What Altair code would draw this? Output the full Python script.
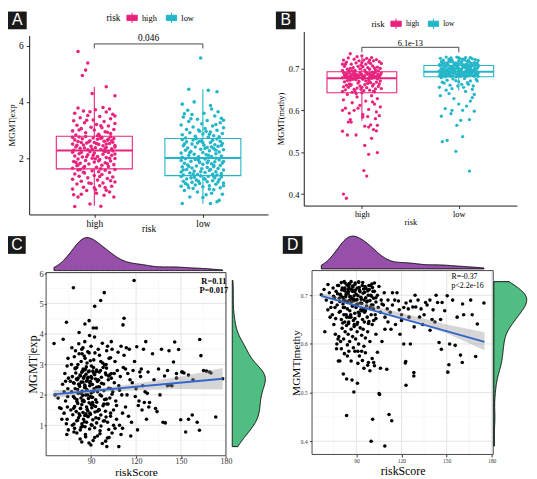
import altair as alt
import pandas as pd

# ---------------------------------------------------------------- data
RISK = ["high", "low"]

# panel A: (jitter offset, MGMT|exp) per risk group
A_HIGH = [
    (-0.18,0.28),(0.06,0.29),(-0.04,0.37),(-0.15,0.62),(-0.19,0.70),(-0.12,0.72),(0.02,0.75),(0.09,0.68),(0.14,0.80),(0.18,0.62),
    (0.11,0.86),(-0.07,0.85),(-0.20,0.90),(-0.10,0.97),(0.00,0.95),(0.05,1.02),(0.16,1.00),(-0.16,1.08),(-0.03,1.10),(0.08,1.12),
    (0.19,1.15),(-0.12,1.18),(0.03,1.22),(-0.20,1.25),(0.12,1.28),(-0.06,1.30),(0.17,1.33),(-0.14,1.36),(0.00,1.38),(0.07,1.42),
    (-0.18,1.44),(-0.09,1.47),(0.14,1.49),(0.04,1.52),(-0.02,1.55),(0.10,1.57),(-0.15,1.58),(0.19,1.60),(-0.05,1.12),(0.05,1.35),
    (0.15,1.20),(-0.10,1.50),(0.01,0.88),(-0.13,1.60),(0.10,0.96),
    (-0.20,1.64),(-0.10,1.66),(0.02,1.68),(0.13,1.70),(-0.16,1.73),(0.07,1.75),(0.18,1.77),(-0.05,1.79),(-0.13,1.82),(0.10,1.84),
    (0.00,1.86),(-0.19,1.88),(0.15,1.90),(-0.08,1.92),(0.05,1.95),(-0.15,1.97),(0.19,1.99),(-0.02,2.00),(0.11,2.02),(-0.11,2.04),
    (0.03,2.06),(-0.18,2.08),(0.16,2.10),(-0.06,2.12),(0.08,2.14),(-0.14,2.16),(0.00,2.18),(0.13,2.20),(-0.20,2.21),(-0.04,2.23),
    (0.09,2.25),(0.17,2.26),(-0.09,1.70),(0.12,1.80),(-0.17,1.85),(0.04,1.90),(-0.01,2.10),(0.19,2.15),(-0.12,2.20),(0.06,1.62),
    (-0.07,2.05),(0.14,2.00),(-0.15,1.76),(0.01,1.98),(0.10,2.24),
    (-0.19,2.28),(-0.06,2.30),(0.06,2.31),(0.16,2.33),(-0.13,2.35),(0.01,2.37),(0.11,2.38),(-0.17,2.40),(-0.03,2.42),(0.08,2.44),
    (0.19,2.45),(-0.10,2.47),(0.04,2.49),(-0.20,2.50),(0.14,2.52),(-0.07,2.54),(0.00,2.56),(0.17,2.57),(-0.15,2.59),(0.09,2.60),
    (-0.04,2.62),(0.12,2.64),(-0.18,2.65),(0.03,2.67),(-0.11,2.69),(0.18,2.70),(-0.01,2.72),(0.07,2.73),(-0.14,2.75),(0.15,2.76),
    (-0.08,2.77),(0.05,2.78),(-0.20,2.74),(0.10,2.34),(-0.05,2.58),(0.13,2.68),(-0.16,2.46),(0.02,2.52),(0.16,2.62),(-0.09,2.36),
    (0.06,2.70),(-0.12,2.56),(0.19,2.40),(-0.02,2.32),(0.11,2.50),
    (-0.17,2.82),(0.04,2.85),(0.15,2.88),(-0.08,2.90),(0.10,2.94),(-0.20,2.97),(0.00,3.00),(0.18,3.02),(-0.12,3.05),(0.07,3.08),
    (-0.03,3.10),(0.13,3.14),(-0.16,3.17),(0.02,3.20),(0.19,3.23),(-0.09,3.26),(0.09,3.30),(-0.19,3.33),(-0.01,3.36),(0.15,3.40),
    (-0.13,3.44),(0.05,3.48),(-0.06,3.52),(0.17,3.56),(-0.18,3.60),(0.11,3.64),(-0.10,3.68),(0.01,3.72),(0.14,3.75),(-0.15,3.78),
    (0.08,3.80),(-0.04,3.65),(0.12,2.92),(-0.14,3.00),(0.06,3.15),(-0.07,3.35),(0.03,2.80),(0.19,3.50),(-0.02,4.30),(0.11,4.54),
    (0.19,4.22),(-0.15,5.79),(-0.06,5.38),(-0.08,5.13),(-0.11,4.94),
]
A_LOW = [
    (-0.19,0.39),(0.07,0.39),(0.13,0.45),(0.15,0.50),(-0.12,0.62),(0.03,0.70),(0.18,0.72),(-0.05,0.80),(-0.17,0.85),(0.10,0.88),
    (-0.09,0.92),(0.16,0.95),(0.00,0.98),(-0.20,1.00),(0.06,1.02),(-0.14,1.05),(0.12,1.07),(-0.03,1.10),(0.19,1.12),(-0.10,1.14),
    (0.04,1.16),(-0.18,1.18),(0.09,1.20),(-0.06,1.22),(0.15,1.24),(-0.15,1.26),(0.01,1.28),(0.11,1.30),(-0.08,1.32),(0.17,1.33),
    (-0.20,1.35),(0.05,1.36),(-0.02,1.37),(0.14,1.15),(-0.13,0.95),(0.08,0.75),(-0.07,1.05),(0.02,1.25),(-0.16,1.10),(0.19,1.02),
    (-0.11,1.30),(0.10,1.35),(0.00,0.60),(-0.04,1.18),(0.06,0.90),
    (-0.18,1.40),(-0.05,1.42),(0.09,1.43),(0.17,1.45),(-0.12,1.47),(0.02,1.49),(-0.20,1.51),(0.12,1.52),(-0.08,1.54),(0.06,1.56),
    (0.19,1.58),(-0.15,1.60),(-0.01,1.62),(0.14,1.63),(-0.10,1.65),(0.04,1.67),(-0.19,1.69),(0.10,1.70),(-0.06,1.72),(0.16,1.74),
    (-0.14,1.76),(0.00,1.78),(0.08,1.80),(-0.17,1.82),(0.18,1.83),(-0.03,1.85),(0.11,1.87),(-0.11,1.89),(0.05,1.90),(-0.20,1.92),
    (0.15,1.94),(-0.07,1.95),(0.02,1.97),(-0.16,1.98),(0.12,2.00),(-0.09,1.44),(0.07,1.60),(-0.13,1.70),(0.19,1.88),(-0.02,1.52),
    (0.13,1.40),(-0.04,1.93),(0.10,1.75),(-0.18,1.58),(0.04,1.84),
    (-0.19,2.03),(-0.04,2.05),(0.08,2.06),(0.17,2.08),(-0.13,2.10),(0.03,2.12),(-0.08,2.14),(0.12,2.16),(-0.20,2.18),(0.00,2.20),
    (0.15,2.22),(-0.11,2.24),(0.06,2.26),(-0.16,2.28),(0.19,2.30),(-0.02,2.32),(0.10,2.34),(-0.14,2.36),(0.04,2.38),(-0.07,2.40),
    (0.14,2.42),(-0.18,2.44),(0.01,2.46),(0.11,2.48),(-0.10,2.50),(0.18,2.52),(-0.05,2.54),(0.07,2.56),(-0.15,2.58),(0.16,2.60),
    (-0.01,2.62),(0.09,2.64),(-0.19,2.66),(0.13,2.68),(-0.06,2.69),(0.02,2.35),(-0.12,2.20),(0.17,2.45),(-0.03,2.60),(0.05,2.10),
    (-0.17,2.50),(0.12,2.28),(-0.09,2.65),(0.08,2.40),(0.00,2.55),
    (-0.16,2.72),(0.05,2.74),(0.15,2.76),(-0.07,2.78),(0.10,2.80),(-0.19,2.83),(0.00,2.86),(0.18,2.88),(-0.12,2.90),(0.07,2.93),
    (-0.03,2.96),(0.13,2.99),(-0.15,3.02),(0.02,3.05),(0.19,3.08),(-0.09,3.11),(0.09,3.14),(-0.20,3.18),(-0.01,3.22),(0.16,3.26),
    (-0.13,3.30),(0.04,3.34),(-0.05,3.38),(0.17,3.42),(-0.18,3.46),(0.11,3.50),(-0.10,3.55),(0.01,3.60),(0.14,3.65),(-0.14,3.70),
    (0.06,2.85),(-0.04,3.00),(0.12,3.20),(-0.11,3.40),(0.03,2.95),(0.19,3.35),(-0.17,3.58),(0.08,3.75),(-0.19,3.92),(0.07,3.87),
    (-0.08,4.00),(-0.13,4.45),(0.05,4.41),(0.13,4.36),(-0.02,5.56),
]
A_BOX = {"lo": [0.31, 0.38], "q1": [1.62, 1.38], "med": [2.27, 2.01], "q3": [2.78, 2.70], "hi": [4.53, 4.45]}
A_TEST = {"top": 6.06, "end": 5.90, "label": "0.046"}

# panel B: (jitter offset, MGMT(methy)) per risk group
B_HIGH = [
    (-0.20,0.695),(-0.16,0.715),(-0.12,0.700),(-0.08,0.722),(-0.04,0.705),(0.00,0.730),(0.04,0.710),(0.08,0.698),(0.12,0.718),(0.16,0.703),
    (0.20,0.712),(-0.18,0.705),(-0.14,0.725),(-0.10,0.694),(-0.06,0.713),(-0.02,0.699),(0.02,0.720),(0.06,0.702),(0.10,0.726),(0.14,0.696),
    (0.18,0.716),(-0.19,0.720),(-0.15,0.698),(-0.11,0.710),(-0.07,0.695),(-0.03,0.718),(0.01,0.704),(0.05,0.724),(0.09,0.712),(0.13,0.701),
    (0.17,0.694),(-0.17,0.710),(-0.13,0.693),(-0.09,0.702),(-0.05,0.728),(0.03,0.696),(0.07,0.715),(0.11,0.706),(0.15,0.721),(0.19,0.700),
    (-0.01,0.708),(-0.12,0.735),(0.00,0.714),(0.08,0.720),(-0.20,0.710),
    (-0.20,0.678),(-0.16,0.688),(-0.12,0.682),(-0.08,0.690),(-0.04,0.679),(0.00,0.685),(0.04,0.691),(0.08,0.680),(0.12,0.687),(0.16,0.683),
    (0.20,0.689),(-0.18,0.684),(-0.14,0.677),(-0.10,0.686),(-0.06,0.681),(-0.02,0.690),(0.02,0.678),(0.06,0.686),(0.10,0.680),(0.14,0.690),
    (0.18,0.679),(-0.19,0.690),(-0.15,0.682),(-0.11,0.679),(-0.07,0.687),(-0.03,0.683),(0.01,0.681),(0.05,0.689),(0.09,0.684),(0.13,0.678),
    (0.17,0.686),(-0.17,0.680),(-0.13,0.689),(-0.09,0.677),(-0.05,0.685),(0.03,0.683),(0.07,0.677),(0.11,0.691),(0.15,0.681),(0.19,0.684),
    (-0.01,0.687),(0.00,0.679),(-0.08,0.683),(0.08,0.688),(0.12,0.682),
    (-0.20,0.645),(-0.16,0.660),(-0.12,0.672),(-0.08,0.650),(-0.04,0.665),(0.00,0.655),(0.04,0.670),(0.08,0.648),(0.12,0.662),(0.16,0.675),
    (0.20,0.652),(-0.18,0.668),(-0.14,0.655),(-0.10,0.643),(-0.06,0.673),(-0.02,0.658),(0.02,0.647),(0.06,0.664),(0.10,0.676),(0.14,0.651),
    (0.18,0.663),(-0.19,0.656),(-0.15,0.671),(-0.11,0.661),(-0.07,0.646),(-0.03,0.669),(0.01,0.674),(0.05,0.654),(0.09,0.666),(0.13,0.644),
    (0.17,0.657),(-0.17,0.649),(-0.13,0.663),(-0.09,0.674),(-0.05,0.653),(0.03,0.661),(0.07,0.672),(0.11,0.658),(0.15,0.667),(0.19,0.670),
    (-0.01,0.650),(-0.12,0.659),(0.08,0.668),(0.00,0.642),(0.12,0.645),
    (-0.15,0.638),(0.10,0.635),(-0.05,0.632),(0.16,0.628),(-0.19,0.625),(0.04,0.622),(-0.10,0.618),(0.13,0.615),(-0.02,0.612),(0.19,0.608),
    (-0.17,0.605),(0.07,0.602),(-0.08,0.600),(0.15,0.596),(-0.13,0.593),(0.01,0.590),(0.18,0.587),(-0.20,0.600),(0.11,0.620),(-0.04,0.605),
    (0.06,0.585),(-0.12,0.578),(0.14,0.580),(0.01,0.584),(-0.06,0.640),
    (-0.19,0.400),(-0.16,0.390),(0.02,0.456),(0.05,0.443),(0.07,0.495),(0.16,0.499),(0.03,0.516),(0.10,0.533),(-0.20,0.550),(-0.15,0.541),
    (-0.06,0.541),(0.12,0.554),(0.15,0.551),(0.07,0.560),(0.03,0.562),(-0.14,0.572),(-0.11,0.572),(0.16,0.564),(0.09,0.565),
]
B_LOW = [
    (-0.20,0.709),(-0.16,0.720),(-0.12,0.713),(-0.08,0.725),(-0.04,0.710),(0.00,0.718),(0.04,0.722),(0.08,0.711),(0.12,0.726),(0.16,0.714),
    (0.20,0.719),(-0.18,0.716),(-0.14,0.708),(-0.10,0.722),(-0.06,0.715),(-0.02,0.727),(0.02,0.712),(0.06,0.720),(0.10,0.708),(0.14,0.723),
    (0.18,0.710),(-0.19,0.724),(-0.15,0.714),(-0.11,0.709),(-0.07,0.720),(-0.03,0.713),(0.01,0.724),(0.05,0.709),(0.09,0.717),(0.13,0.712),
    (0.17,0.721),(-0.17,0.711),(-0.13,0.727),(-0.09,0.716),(-0.05,0.708),(0.03,0.716),(0.07,0.726),(0.11,0.715),(0.15,0.708),(0.19,0.713),
    (-0.01,0.711),(0.00,0.725),(-0.10,0.718),(0.10,0.720),(0.20,0.708),
    (-0.20,0.694),(-0.16,0.702),(-0.12,0.697),(-0.08,0.705),(-0.04,0.693),(0.00,0.700),(0.04,0.706),(0.08,0.695),(0.12,0.703),(0.16,0.698),
    (0.20,0.704),(-0.18,0.699),(-0.14,0.693),(-0.10,0.701),(-0.06,0.697),(-0.02,0.705),(0.02,0.694),(0.06,0.702),(0.10,0.696),(0.14,0.706),
    (0.18,0.693),(-0.19,0.706),(-0.15,0.698),(-0.11,0.695),(-0.07,0.703),(-0.03,0.699),(0.01,0.697),(0.05,0.704),(0.09,0.700),(0.13,0.694),
    (0.17,0.702),(-0.17,0.696),(-0.13,0.704),(-0.09,0.692),(-0.05,0.701),(0.03,0.699),(0.07,0.693),(0.11,0.706),(0.15,0.696),(0.19,0.700),
    (-0.01,0.703),(0.00,0.695),(-0.08,0.698),(0.08,0.704),(0.12,0.698),
    (-0.20,0.682),(-0.16,0.690),(-0.12,0.685),(-0.08,0.681),(-0.04,0.688),(0.00,0.684),(0.04,0.691),(0.08,0.683),(0.12,0.687),(0.16,0.681),
    (0.20,0.689),(-0.18,0.686),(-0.14,0.680),(-0.10,0.689),(-0.06,0.683),(-0.02,0.686),(0.02,0.681),(0.06,0.688),(0.10,0.682),(0.14,0.690),
    (0.18,0.684),(-0.19,0.688),(-0.15,0.684),(-0.11,0.682),(-0.07,0.690),(-0.03,0.680),(0.01,0.687),(0.05,0.683),(0.09,0.689),(0.13,0.685),
    (0.17,0.687),(-0.17,0.681),(-0.13,0.687),(-0.09,0.684),(-0.05,0.691),(0.03,0.685),(0.07,0.681),(0.11,0.688),(0.15,0.683),(0.19,0.686),
    (-0.01,0.682),(0.00,0.690),(-0.10,0.686),(0.10,0.685),(0.20,0.681),
    (-0.18,0.678),(-0.12,0.672),(-0.06,0.675),(0.00,0.668),(0.06,0.676),(0.12,0.670),(0.18,0.674),(-0.15,0.665),(-0.09,0.660),(-0.03,0.671),
    (0.03,0.662),(0.09,0.666),(0.15,0.658),(-0.20,0.655),(-0.07,0.652),(0.05,0.655),(0.14,0.650),(-0.13,0.648),(0.10,0.662),(0.19,0.670),
    (-0.01,0.658),(-0.17,0.667),(0.07,0.645),(-0.10,0.640),(0.16,0.638),
    (-0.17,0.525),(-0.12,0.528),(-0.03,0.502),(0.11,0.455),(0.04,0.537),(0.02,0.576),(-0.02,0.564),(0.11,0.578),(-0.18,0.586),(-0.08,0.592),
    (-0.14,0.604),(0.16,0.598),(-0.07,0.600),(0.08,0.610),(0.04,0.600),(0.12,0.622),(-0.05,0.628),(0.00,0.615),(0.14,0.630),(-0.19,0.635),
]
B_BOX = {"lo": [0.575, 0.6475], "q1": [0.642, 0.680], "med": [0.6765, 0.692], "q3": [0.692, 0.707], "hi": [0.731, 0.725]}
B_TEST = {"top": 0.7504, "end": 0.7386, "label": "6.1e-13"}

# panel C: (riskScore, MGMT|exp) points outside the dense core
C_EDGE = [
    (65.3,3.69),(71.4,3.83),(73.6,4.39),(66.0,2.00),(68.0,1.90),(70.0,1.55),(72.0,1.40),(69.0,1.58),(74.0,2.95),(72.5,2.70),
    (73.0,2.45),(74.5,2.20),(71.0,2.35),(74.0,1.20),(73.5,1.05),(74.8,0.85),(73.0,1.80),(74.2,1.60),(72.0,2.10),(74.6,3.20),
    (74.9,2.55),(73.8,0.70),(70.5,1.20),(74.4,1.95),
    (78.2,5.52),(96.4,5.10),(98.8,5.36),(92.4,4.91),(88.7,4.44),(85.9,4.33),(91.5,4.20),(93.5,4.20),(82.0,4.05),
    (100.5,0.30),(108.5,0.30),(102.0,0.60),(104.0,0.75),(106.0,0.90),(101.0,1.10),(103.0,1.30),(105.0,1.50),(107.0,1.20),(109.0,1.00),
    (110.0,0.70),(111.0,1.40),(100.5,1.70),(102.5,1.90),(104.5,2.10),(106.5,1.80),(108.5,2.30),(110.5,2.00),(101.5,2.50),(103.5,2.70),
    (105.5,2.40),(107.5,2.80),(109.5,2.60),(111.5,2.90),(100.0,3.00),(102.0,3.20),(104.0,3.50),(106.0,3.10),(108.0,3.40),(110.0,3.60),
    (112.0,3.30),(101.0,3.60),(103.0,2.20),(105.0,1.00),(107.0,1.65),(109.0,2.15),(111.0,0.90),(113.0,1.60),(114.0,2.00),(115.0,1.30),
    (116.0,2.50),(117.0,1.10),(118.0,2.80),(119.0,3.10),(120.0,2.20),(121.0,0.85),(122.0,1.80),(123.0,2.60),(124.0,1.50),(125.0,3.50),
    (126.0,2.10),(127.0,1.20),(128.0,2.75),(129.0,1.75),(113.5,3.55),(115.5,3.50),(117.5,2.40),(120.5,3.58),(122.5,2.75),(124.5,2.30),
    (126.5,3.75),(128.5,1.60),(121.5,1.65),(123.5,2.85),(125.5,1.75),(127.5,2.05),(112.0,4.52),(111.3,4.30),(118.7,5.76),(114.5,2.70),
    (119.5,1.95),(116.5,0.65),(113.0,2.85),
    (131.0,3.35),(133.0,1.55),(134.0,1.45),(135.0,2.85),(137.0,3.50),(138.0,1.10),(139.5,1.08),(141.0,2.30),(142.0,3.45),(143.0,2.32),
    (144.0,2.30),(145.0,3.08),(145.8,3.74),(147.0,2.55),(148.4,3.49),(149.8,1.18),(150.5,2.75),(151.0,2.75),(152.0,2.72),(153.1,0.78),
    (155.0,1.20),(157.5,1.34),(160.8,1.10),(162.3,0.84),(162.5,3.82),(163.3,3.29),(165.0,2.80),(167.0,2.78),(169.0,2.75),(170.0,2.72),
    (173.2,1.27),(177.8,2.53),(139.0,2.62),(141.0,2.80),(136.0,2.00),(132.0,2.50),(147.0,2.70),(155.0,2.65),(158.0,2.50),
]
# panel C dense core, read band by band: (riskScore list, MGMT|exp list)
C_CORE = [
    ([80.5,83.8,86.2,88.6,91.4,94.2,97.5,100.9,78.6,86.4,89.9,82.7,95.9,92.4,99.7],
     [0.75,0.45,0.70,0.42,0.50,0.65,0.40,0.58,0.78,0.62,0.35,0.55,0.72,0.60,0.48]),
    ([77.5,79.0,80.4,81.6,82.8,83.9,85.0,86.0,87.0,88.0,89.0,90.1,91.2,92.4,93.7,95.1,96.6,98.2,100.0,101.8,
      78.6,81.0,83.4,85.6,87.8,90.6,93.2,96.0,99.0,84.5],
     [1.00,0.90,1.15,1.25,0.85,1.05,1.20,0.95,1.10,1.28,0.88,1.02,1.18,0.92,1.08,1.22,0.98,1.14,1.27,0.86,
      1.04,1.16,0.94,1.12,1.30,1.00,1.25,0.82,1.15,0.97]),
    ([76.5,77.8,79.0,80.1,81.1,82.0,82.9,83.8,84.6,85.4,86.2,87.0,87.8,88.7,89.6,90.5,91.5,92.6,93.8,95.1,
      96.5,98.0,99.6,101.3,103.0,78.4,80.6,82.5,84.2,85.8,87.4,89.2,91.0,93.0,95.5,98.5,83.0,86.6,90.0,94.3],
     [1.50,1.35,1.62,1.45,1.72,1.38,1.55,1.68,1.42,1.78,1.33,1.60,1.48,1.74,1.36,1.58,1.66,1.44,1.76,1.52,
      1.34,1.64,1.46,1.70,1.40,1.56,1.78,1.32,1.80,1.32,1.52,1.40,1.75,1.62,1.50,1.70,1.56,1.38,1.68,1.46]),
    ([77.0,78.2,79.4,80.5,81.5,82.4,83.3,84.1,84.9,85.7,86.5,87.3,88.2,89.1,90.0,91.0,92.0,93.1,94.3,95.6,
      97.0,98.5,100.1,101.8,104.0,79.0,81.0,82.9,84.5,86.1,87.7,89.5,91.5,93.6,96.0,99.0,83.7,87.0,90.5,95.0],
     [2.10,1.95,2.20,1.85,2.05,2.28,1.90,2.12,1.82,2.24,2.00,2.16,1.88,2.30,2.06,1.92,2.20,1.84,2.10,2.26,
      1.96,2.14,1.86,2.22,2.02,1.90,2.18,2.08,1.98,2.25,2.00,1.95,2.10,2.25,2.00,1.85,2.04,2.18,1.92,2.27]),
    ([76.2,77.5,78.7,79.8,80.8,81.7,82.6,83.4,84.2,85.0,85.8,86.6,87.4,88.2,89.1,90.0,90.9,91.9,93.0,94.2,
      95.5,96.9,98.4,100.0,101.7,103.5,105.5,78.2,80.2,82.1,83.8,85.4,87.0,88.7,90.5,92.4,94.6,97.0,99.6,
      81.3,84.6,87.8,91.2,95.0,79.3,82.9,86.2,89.6,93.5,98.0,102.5,85.6,88.0,91.6,96.3],
     [2.45,2.60,2.38,2.72,2.50,2.35,2.65,2.42,2.78,2.55,2.32,2.68,2.48,2.76,2.40,2.60,2.34,2.70,2.52,2.44,
      2.75,2.58,2.36,2.66,2.62,2.55,2.70,2.40,2.52,2.35,2.74,2.60,2.45,2.78,2.55,2.66,2.50,2.38,2.72,
      2.55,2.42,2.55,2.78,2.48,2.88,2.62,2.84,2.44,2.76,2.90,2.66,2.82,2.58,2.90,2.80]),
    ([76.9,78.8,80.5,82.0,83.4,84.7,86.0,87.3,88.7,90.2,91.8,93.6,95.6,97.8,100.3,103.0,81.2,84.0,86.8,89.5,
      92.6,96.5,79.5,85.4,99.0],
     [3.00,3.25,2.90,3.35,3.10,2.85,3.20,3.05,3.38,2.95,3.15,2.82,3.30,3.05,2.88,3.22,3.00,3.35,2.92,3.12,
      3.38,3.10,2.86,3.28,2.98]),
    ([77.2,79.6,81.8,83.8,85.8,87.8,90.0,92.3,94.8,97.5,100.4,103.5,84.6,89.0],
     [3.55,3.45,3.68,3.50,3.75,3.42,3.60,3.90,3.50,3.70,3.45,3.75,3.55,3.95]),
]
C_FIT = {"x": [65.0, 177.8], "y": [2.02, 2.53]}
C_BAND = {"x": [65.0, 80.0, 95.0, 110.0, 130.0, 150.0, 177.8],
          "lo": [1.88, 2.00, 2.08, 2.13, 2.17, 2.19, 2.18],
          "hi": [2.16, 2.18, 2.22, 2.31, 2.45, 2.60, 2.88]}
C_STATS = "R=0.11\nP=0.017"

# panel D: (riskScore, MGMT|methy) points outside the dense core
D_EDGE = [
    (66.7,0.701),(71.1,0.722),(68.5,0.712),(70.0,0.690),(72.0,0.705),(73.5,0.685),(74.5,0.715),(75.5,0.695),(76.5,0.708),(77.5,0.720),
    (72.5,0.655),(74.0,0.660),(75.0,0.640),(69.0,0.625),(76.0,0.620),(77.0,0.600),(77.8,0.610),(76.8,0.590),(73.0,0.675),(75.8,0.675),
    (77.2,0.680),(78.0,0.565),(71.0,0.670),(76.2,0.652),(74.8,0.698),
    (78.3,0.615),(79.5,0.605),(80.5,0.632),(81.5,0.610),(82.5,0.625),(83.5,0.638),(84.5,0.620),(85.5,0.605),(86.5,0.630),(87.5,0.615),
    (88.5,0.636),(89.5,0.610),(90.5,0.625),(91.5,0.600),(92.5,0.633),(93.5,0.618),(94.5,0.630),(96.0,0.612),(97.5,0.625),(99.0,0.605),
    (80.0,0.590),(84.0,0.598),(88.0,0.592),(91.0,0.585),(95.0,0.595),
    (81.3,0.538),(83.5,0.528),(87.1,0.526),(88.3,0.501),(90.7,0.519),(83.5,0.453),(99.8,0.400),(79.0,0.565),(85.0,0.585),(86.5,0.565),
    (89.0,0.585),(92.0,0.575),(94.0,0.566),(96.0,0.582),(97.5,0.556),(99.0,0.545),(98.0,0.562),(95.0,0.550),(93.5,0.585),(91.0,0.560),
    (84.0,0.575),(82.0,0.580),
    (100.8,0.445),(111.7,0.455),(113.5,0.442),(108.9,0.390),(105.1,0.498),(105.4,0.496),(110.2,0.548),(100.5,0.570),(102.0,0.555),(101.5,0.562),
    (104.0,0.583),(106.0,0.550),(103.0,0.620),(107.0,0.605),(109.0,0.630),(100.5,0.640),(102.5,0.660),(104.5,0.675),(106.5,0.690),(108.5,0.705),
    (110.5,0.672),(101.0,0.708),(103.0,0.695),(105.0,0.718),(107.0,0.682),(109.0,0.655),(111.0,0.645),(112.5,0.665),(114.0,0.680),(115.5,0.690),
    (117.0,0.705),(118.5,0.670),(120.0,0.660),(121.5,0.675),(123.0,0.684),(124.5,0.672),(126.0,0.688),(127.5,0.676),(129.0,0.700),(113.0,0.630),
    (116.0,0.640),(119.0,0.620),(121.5,0.600),(125.9,0.600),(123.0,0.515),(128.2,0.541),(128.2,0.534),(122.8,0.564),(122.5,0.561),(120.0,0.648),
    (125.0,0.655),(128.4,0.635),(129.5,0.676),(100.0,0.680),(102.0,0.725),(104.0,0.700),(106.0,0.665),(108.0,0.680),(111.0,0.690),(114.0,0.705),
    (118.0,0.688),
    (131.0,0.690),(133.0,0.672),(135.0,0.660),(137.0,0.680),(138.9,0.690),(140.3,0.650),(142.2,0.645),(144.0,0.685),(145.0,0.603),(146.5,0.589),
    (148.7,0.668),(150.4,0.699),(151.5,0.557),(150.8,0.542),(152.0,0.600),(155.7,0.597),(159.2,0.577),(160.4,0.562),(160.6,0.682),(161.3,0.660),
    (166.0,0.690),(167.0,0.660),(169.3,0.574),(170.4,0.641),(174.8,0.684),(134.0,0.640),(136.0,0.685),(141.0,0.670),(143.0,0.700),(147.0,0.685),
    (139.0,0.628),(154.0,0.690),(157.0,0.655),(146.0,0.650),(132.0,0.655),
]
# panel D dense core, read band by band: (riskScore list, MGMT|methy list)
D_CORE = [
    ([78.2,79.5,80.6,81.6,82.5,83.3,84.1,84.9,85.7,86.5,87.3,88.1,89.0,89.9,90.9,91.9,93.0,94.2,95.5,96.9,98.3,99.6,101.0],
     [0.720,0.700,0.715,0.690,0.725,0.705,0.685,0.718,0.698,0.728,0.708,0.688,0.722,0.702,0.682,0.716,0.696,0.726,0.706,0.686,0.720,0.700,0.680]),
    ([78.6,80.0,81.1,82.0,82.9,83.7,84.5,85.3,86.1,86.9,87.7,88.5,89.4,90.4,91.4,92.4,93.6,94.8,96.2,97.6,99.0,100.3,77.5],
     [0.694,0.726,0.682,0.710,0.697,0.721,0.703,0.689,0.713,0.693,0.717,0.699,0.711,0.691,0.727,0.707,0.683,0.713,0.695,0.709,0.689,0.723,0.703]),
    ([79.0,80.3,81.4,82.3,83.1,83.9,84.7,85.5,86.3,87.1,87.9,88.8,89.7,90.6,91.6,92.7,93.9,95.1,96.5,97.9,99.3,100.7,102.0],
     [0.687,0.711,0.691,0.715,0.701,0.687,0.707,0.723,0.697,0.711,0.693,0.707,0.690,0.715,0.727,0.684,0.720,0.690,0.714,0.700,0.720,0.716,0.708]),
    ([79.3,80.8,81.9,82.8,83.6,84.3,85.1,85.9,86.7,87.5,88.3,89.2,90.1,91.1,92.1,93.3,94.5,95.8,97.2,98.6,100.0,101.5,103.0],
     [0.702,0.696,0.728,0.688,0.704,0.712,0.724,0.696,0.686,0.719,0.709,0.725,0.681,0.699,0.710,0.692,0.704,0.718,0.688,0.712,0.698,0.694,0.686]),
    ([78.6,80.0,81.3,82.3,83.2,84.0,84.8,85.6,86.4,87.2,88.0,88.9,89.8,90.8,91.8,92.9,94.1,95.4,96.8,98.3,99.8,101.3,103.0],
     [0.665,0.650,0.675,0.645,0.660,0.672,0.642,0.668,0.655,0.678,0.648,0.663,0.675,0.644,0.658,0.670,0.650,0.665,0.678,0.646,0.660,0.672,0.652]),
    ([79.3,80.9,82.1,83.6,84.9,86.2,87.6,89.0,90.4,92.0,93.6,95.3,97.2,99.2,101.5,81.7,85.3,88.6,91.3,94.8,98.0,96.0],
     [0.667,0.643,0.675,0.655,0.645,0.660,0.678,0.652,0.640,0.662,0.668,0.645,0.655,0.675,0.648,0.660,0.655,0.640,0.665,0.672,0.642,0.668]),
]
D_FIT = {"x": [66.7, 175.2], "y": [0.6986, 0.604]}
D_BAND = {"x": [66.7, 80.0, 95.0, 110.0, 130.0, 150.0, 175.2],
          "lo": [0.694, 0.686, 0.676, 0.662, 0.643, 0.622, 0.587],
          "hi": [0.705, 0.694, 0.683, 0.671, 0.656, 0.640, 0.624]}
D_STATS = "R=-0.37\np<2.2e-16"

RS_TICKS = [90, 120, 150, 180]
RS_MINOR = [75, 105, 135, 165]
C_Y_TICKS = [1, 2, 3, 4, 5, 6]
C_Y_MINOR = [0.5, 1.5, 2.5, 3.5, 4.5, 5.5]
D_Y_TICKS = [0.4, 0.5, 0.6, 0.7]
D_Y_MINOR = [0.45, 0.55, 0.65]
A_Y_TICKS = [2, 4, 6]
B_Y_TICKS = [0.4, 0.5, 0.6, 0.7]
TAGS = ["A", "B", "C", "D"]

C_POINTS = C_EDGE + [p for xs_, ys_ in C_CORE for p in zip(xs_, ys_)]
D_POINTS = D_EDGE + [p for xs_, ys_ in D_CORE for p in zip(xs_, ys_)]

# ---------------------------------------------------------------- style / layout
PINK, CYAN = "#E8237E", "#23B6C8"
PURPLE, GREEN = "#9650AA", "#50BE82"
BLUE = "#3366CC"
SERIF = "Liberation Serif"
SANS = "Liberation Sans"
W, H = 529, 471
BOX_SYMBOL = "M-1,-0.5H1V0.5H-1Z M-1,0H1 M0,-0.5V-1 M0,0.5V1"

LAY = {
    "A": {"x": [21.5, 264.0], "y": [206.0, 24.3], "half": 0.35, "xd": [0.4, 2.6], "yd": [0.0, 6.36]},
    "B": {"x": [300.3, 516.7], "y": [197.0, 20.3], "half": 0.36, "xd": [0.4, 2.6], "yd": [0.3725, 0.788]},
    "C": {"x": [38.7, 221.3], "y": [451.0, 265.0], "top": [263.0, 229.5], "right": [227.7, 261.3],
          "xd": [60.0, 180.0], "yd": [0.0, 6.02]},
    "D": {"x": [308.7, 492.7], "y": [449.7, 263.0], "top": [261.3, 228.0], "right": [493.3, 526.7],
          "xd": [60.5, 181.0], "yd": [0.3728, 0.7507]},
}
TAG_BOX = {"A": ([0, 19], [0, 18]), "B": ([272, 292], [0, 18]),
           "C": ([0, 18], [228, 246]), "D": ([279, 299], [228, 246])}


def lin(domain, rng):
    return alt.Scale(domain=domain, range=rng, nice=False, zero=False)


def left_axis(lay, values, title, lsize, tsize, title_x, tick, pad, fmt=None, domain=True, lcolor="black"):
    kw = dict(orient="left", offset=-lay["x"][0], values=values, title=title, labelFontSize=lsize,
              titleFontSize=tsize, titleX=title_x, titleBaseline="middle", tickSize=tick, labelPadding=pad,
              domain=domain, domainColor="black", domainWidth=0.9, tickColor="#222", tickWidth=0.9,
              labelColor=lcolor, titleColor="black", grid=False)
    if fmt:
        kw["format"] = fmt
    return alt.Axis(**kw)


def bottom_axis(lay, values, title, lsize, tsize, title_y, tick, pad, label_expr=None, domain=True, lcolor="black"):
    kw = dict(orient="bottom", offset=lay["y"][0] - H, values=values, title=title, labelFontSize=lsize,
              titleFontSize=tsize, titleY=title_y, titleBaseline="middle", tickSize=tick, labelPadding=pad,
              domain=domain, domainColor="black", domainWidth=0.9, tickColor="#222", tickWidth=0.9,
              labelColor=lcolor, titleColor="black", grid=False)
    if label_expr:
        kw["labelExpr"] = label_expr
    return alt.Axis(**kw)


def risk_legend(lx, ly, lsize, tsize):
    return alt.Legend(title="risk", orient="none", legendX=lx, legendY=ly, direction="horizontal",
                      titleOrient="left", titleAnchor="middle", titleBaseline="middle",
                      symbolType=BOX_SYMBOL, symbolSize=110, symbolStrokeWidth=1.0,
                      symbolFillColor="white", labelFont=SERIF, labelFontSize=lsize, titleFont=SERIF,
                      titleFontSize=tsize, titleFontWeight="normal", labelOffset=4, columnPadding=6,
                      titlePadding=5, padding=0, labelColor="black", titleColor="black")


def box_panel(key, high, low, box, test, xax, yax, legend, dot_size, text_size, text_dy):
    lay = LAY[key]
    xs, ys = lin(lay["xd"], lay["x"]), lin(lay["yd"], lay["y"])
    cs = alt.Scale(domain=RISK, range=[PINK, CYAN])
    pts = pd.DataFrame([{"risk": RISK[0], "x": 1 + dx, "v": v} for dx, v in high] +
                       [{"risk": RISK[1], "x": 2 + dx, "v": v} for dx, v in low])
    bx = pd.DataFrame(dict(risk=RISK, pos=[1, 2], **box))
    bx["x0"] = bx["pos"] - lay["half"]
    bx["x1"] = bx["pos"] + lay["half"]
    tst = pd.DataFrame([dict(xa=1, xb=2, mid=1.5, **test)])
    nx = lambda f: alt.X(f, scale=xs, axis=xax)
    ny = lambda f: alt.Y(f, scale=ys, axis=yax)
    st = alt.Stroke("risk:N", scale=cs, legend=None)
    base = alt.Chart(bx)
    rect = base.mark_rect(fill="white", strokeWidth=1.1).encode(
        x=nx("x0:Q"), x2="x1:Q", y=ny("q1:Q"), y2="q3:Q",
        stroke=alt.Stroke("risk:N", scale=cs, legend=legend))
    w_hi = base.mark_rule(strokeWidth=1.1).encode(x=nx("pos:Q"), y=ny("q3:Q"), y2="hi:Q", stroke=st)
    w_lo = base.mark_rule(strokeWidth=1.1).encode(x=nx("pos:Q"), y=ny("lo:Q"), y2="q1:Q", stroke=st)
    med = base.mark_rule(strokeWidth=2).encode(x=nx("x0:Q"), x2="x1:Q", y=ny("med:Q"), stroke=st)
    dots = alt.Chart(pts).mark_circle(size=dot_size, opacity=1).encode(
        x=nx("x:Q"), y=ny("v:Q"), fill=alt.Fill("risk:N", scale=cs, legend=None))
    tb = alt.Chart(tst)
    br_h = tb.mark_rule(color="#333", strokeWidth=0.9).encode(x=nx("xa:Q"), x2="xb:Q", y=ny("top:Q"))
    br_l = tb.mark_rule(color="#333", strokeWidth=0.9).encode(x=nx("xa:Q"), y=ny("end:Q"), y2="top:Q")
    br_r = tb.mark_rule(color="#333", strokeWidth=0.9).encode(x=nx("xb:Q"), y=ny("end:Q"), y2="top:Q")
    lab = tb.mark_text(font=SERIF, fontSize=text_size, baseline="alphabetic", dy=text_dy, color="black").encode(
        x=nx("mid:Q"), y=ny("top:Q"), text="label:N")
    return alt.layer(rect, w_hi, w_lo, med, dots, br_h, br_l, br_r, lab)


def scatter_panel(key, points, fit, band, stats, yticks, yminor, xax, yax, stat_kw, dot_size):
    lay = LAY[key]
    xd, yd = lay["xd"], lay["yd"]
    xs, ys = lin(xd, lay["x"]), lin(yd, lay["y"])
    df = pd.DataFrame(points, columns=["rs", "v"])
    fx = lambda f: alt.X(f, scale=xs, axis=xax)
    fy = lambda f: alt.Y(f, scale=ys, axis=yax)
    layers = []
    for vals, col, wid in [(RS_MINOR, "#F2F2F2", 0.6), (RS_TICKS, "#E4E4E4", 1.0)]:
        layers.append(alt.Chart(pd.DataFrame({"g": vals})).mark_rule(color=col, strokeWidth=wid).encode(
            x=fx("g:Q"), y=alt.YDatum(yd[0], scale=ys, axis=yax), y2=alt.Y2Datum(yd[1])))
    for vals, col, wid in [(yminor, "#F2F2F2", 0.6), (yticks, "#E4E4E4", 1.0)]:
        layers.append(alt.Chart(pd.DataFrame({"g": vals})).mark_rule(color=col, strokeWidth=wid).encode(
            y=fy("g:Q"), x=alt.XDatum(xd[0], scale=xs, axis=xax), x2=alt.X2Datum(xd[1])))
    layers.append(alt.Chart(df).mark_circle(size=dot_size, color="black", opacity=1).encode(
        x=fx("rs:Q"), y=fy("v:Q")))
    layers.append(alt.Chart(pd.DataFrame(band)).mark_area(color="#999999", opacity=0.4).encode(
        x=fx("x:Q"), y=fy("lo:Q"), y2="hi:Q"))
    layers.append(alt.Chart(pd.DataFrame(fit)).mark_line(color=BLUE, strokeWidth=1.8).encode(
        x=fx("x:Q"), y=fy("y:Q")))
    one = alt.Chart(pd.DataFrame({"t": [stats]}))
    layers.append(one.mark_rect(fill="transparent", stroke="#333333", strokeWidth=0.9).encode(
        x=alt.XDatum(xd[0], scale=xs, axis=xax), x2=alt.X2Datum(xd[1]),
        y=alt.YDatum(yd[0], scale=ys, axis=yax), y2=alt.Y2Datum(yd[1])))
    layers.append(one.mark_text(font=SERIF, baseline="top", lineBreak="\n", color="black", **stat_kw).encode(
        x=alt.XDatum(xd[1], scale=xs, axis=xax), y=alt.YDatum(yd[1], scale=ys, axis=yax), text="t:N"))
    return alt.layer(*layers)


def top_density(key, points, fill):
    lay = LAY[key]
    df = pd.DataFrame(points, columns=["rs", "v"])
    return alt.Chart(df).transform_density("rs", as_=["rs", "density"]).mark_area(
        fill=fill, stroke="black", strokeWidth=0.9, opacity=1).encode(
        x=alt.X("rs:Q", scale=lin(lay["xd"], lay["x"]), axis=None),
        y=alt.Y("density:Q", scale=alt.Scale(range=lay["top"], zero=True, nice=False), axis=None))


def right_density(key, points, fill):
    lay = LAY[key]
    df = pd.DataFrame(points, columns=["rs", "v"])
    return alt.Chart(df).transform_density("v", as_=["v", "density"]).mark_area(
        orient="horizontal", fill=fill, stroke="black", strokeWidth=0.9, opacity=1).encode(
        y=alt.Y("v:Q", scale=lin(lay["yd"], lay["y"]), axis=None),
        x=alt.X("density:Q", scale=alt.Scale(range=lay["right"], zero=True, nice=False), axis=None))


def tag(t):
    xr, yr = TAG_BOX[t]
    base = alt.Chart(pd.DataFrame({"tag": [t]})).encode(
        x=alt.X("tag:N", scale=alt.Scale(domain=[t], range=xr, paddingInner=0, paddingOuter=0), axis=None),
        y=alt.Y("tag:N", scale=alt.Scale(domain=[t], range=yr, paddingInner=0, paddingOuter=0), axis=None))
    return alt.layer(base.mark_rect(color="#1a1a1a"),
                     base.mark_text(color="white", font=SANS, fontSize=16, baseline="middle").encode(text="tag:N"))


risk_expr = "[" + ",".join("'%s'" % r for r in RISK) + "][datum.value - 1]"

panelA = box_panel(
    "A", A_HIGH, A_LOW, A_BOX, A_TEST,
    bottom_axis(LAY["A"], [1, 2], "risk", 9.5, 9.5, 14, 3, 1, label_expr=risk_expr),
    left_axis(LAY["A"], A_Y_TICKS, "MGMT|exp", 9.5, 9, -17.5, 3, 3),
    risk_legend(100, 0, 8.5, 9.5), 13, 9.5, -3)

panelB = box_panel(
    "B", B_HIGH, B_LOW, B_BOX, B_TEST,
    bottom_axis(LAY["B"], [1, 2], "risk", 8.5, 8.5, 16, 3, 1, label_expr=risk_expr),
    left_axis(LAY["B"], B_Y_TICKS, "MGMT(methy)", 8.5, 8.5, -23.6, 3, 2, fmt=".1f"),
    risk_legend(369, 6, 7.5, 9), 11, 8.5, -1.5)

panelC = scatter_panel(
    "C", C_POINTS, C_FIT, C_BAND, C_STATS, C_Y_TICKS, C_Y_MINOR,
    bottom_axis(LAY["C"], RS_TICKS, "riskScore", 8, 11.5, 17.5, 2, 0, domain=False, lcolor="#333"),
    left_axis(LAY["C"], C_Y_TICKS, "MGMT|exp", 8.5, 12.5, -13.7, 2, 1, domain=False, lcolor="#333"),
    dict(fontSize=8.5, fontWeight="bold", align="center", dx=-12.3, dy=4.5, lineHeight=9), 13)

panelD = scatter_panel(
    "D", D_POINTS, D_FIT, D_BAND, D_STATS, D_Y_TICKS, D_Y_MINOR,
    bottom_axis(LAY["D"], RS_TICKS, "riskScore", 5.5, 12, 16.6, 2.5, 1.5, domain=False, lcolor="#333"),
    left_axis(LAY["D"], D_Y_TICKS, "MGMT|methy", 5.5, 11.5, -15.7, 2.5, 2.5, fmt=".1f", domain=False, lcolor="#333"),
    dict(fontSize=8, align="left", dx=-42.4, dy=3, lineHeight=8.7), 13)

chart = alt.layer(
    panelA, panelB,
    panelC, top_density("C", C_POINTS, PURPLE), right_density("C", C_POINTS, GREEN),
    panelD, top_density("D", D_POINTS, PURPLE), right_density("D", D_POINTS, GREEN),
    *[tag(t) for t in TAGS],
).resolve_scale(
    x="independent", y="independent", stroke="independent", fill="independent"
).resolve_axis(
    x="independent", y="independent"
).resolve_legend(
    stroke="independent", fill="independent"
).properties(
    width=W, height=H, padding=0, background="white",
    autosize=alt.AutoSizeParams(type="none", contains="padding"),
).configure_view(
    stroke=None
).configure_axis(
    labelFont=SERIF, titleFont=SERIF, titleFontWeight="normal", grid=False,
    labelFlush=False, labelOverlap=False, labelBound=False,
)

chart.save("out.html", embed_options={"renderer": "svg", "actions": False})
